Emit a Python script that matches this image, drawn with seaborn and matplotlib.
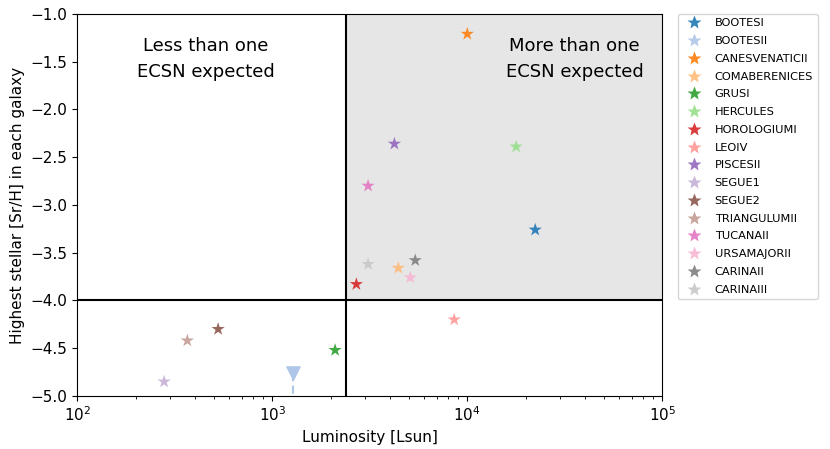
import numpy as np
import pandas as pd
import matplotlib
matplotlib.use('Agg')
import matplotlib.pyplot as plt
import seaborn as sns

# galaxy names, luminosity (Lsun) and highest [Sr/H]
galaxies = ['BOOTESI', 'BOOTESII', 'CANESVENATICII', 'COMABERENICES', 'GRUSI',
            'HERCULES', 'HOROLOGIUMI', 'LEOIV', 'PISCESII', 'SEGUE1', 'SEGUE2',
            'TRIANGULUMII', 'TUCANAII', 'URSAMAJORII', 'CARINAII', 'CARINAIII']
luminosity = [22300, 1280, 10000, 4430, 2100, 17800, 2700, 8570, 4230,
              279, 528, 367, 3100, 5100, 5410, 3100]
sr_h = [-3.26, -4.76, -1.21, -3.66, -4.52, -2.39, -3.83, -4.20, -2.36,
        -4.85, -4.30, -4.42, -2.80, -3.76, -3.58, -3.62]
upper_limit = ['BOOTESII']

lum_cut = 2400
sr_cut = -4.0

data = pd.DataFrame({'galaxy': galaxies, 'L': luminosity, 'SrH': sr_h})
colors = sns.color_palette('tab20', 16)
pal = dict(zip(galaxies, colors))

fig = plt.figure(figsize=(8.3, 4.49), dpi=100)
ax = fig.add_axes([0.093, 0.118, 0.705, 0.851])

# shaded region: more than one ECSN expected
ax.fill_between([lum_cut, 1e5], sr_cut, -1.0, color='0.9', zorder=0, lw=0)
ax.axvline(lum_cut, color='black', lw=1.5, zorder=1)
ax.axhline(sr_cut, color='black', lw=1.5, zorder=1)

detected = data[~data['galaxy'].isin(upper_limit)]
sns.scatterplot(data=detected, x='L', y='SrH', hue='galaxy', hue_order=galaxies,
                palette=pal, marker='*', s=100, edgecolor='none', alpha=0.9,
                ax=ax, zorder=3)

# upper limits
for _, row in data[data['galaxy'].isin(upper_limit)].iterrows():
    c = pal[row['galaxy']]
    ax.plot([row['L'], row['L']], [row['SrH'], -5.2], ls=(0, (4, 2)), color=c,
            lw=1.5, zorder=2)
    ax.scatter(row['L'], row['SrH'], marker='v', s=90, color=c, zorder=3)

ax.set_xscale('log')
ax.set_xlim(1e2, 1e5)
ax.set_ylim(-5.0, -1.0)
ax.set_xlabel('Luminosity [Lsun]', fontsize=11)
ax.set_ylabel('Highest stellar [Sr/H] in each galaxy', fontsize=11)
ax.tick_params(labelsize=11)

ax.text(0.22, 0.94, 'Less than one\nECSN expected', transform=ax.transAxes,
        ha='center', va='top', fontsize=13, linespacing=1.6)
ax.text(0.85, 0.94, 'More than one\nECSN expected', transform=ax.transAxes,
        ha='center', va='top', fontsize=13, linespacing=1.6)

leg = ax.legend(bbox_to_anchor=(1.027, 1.0), loc='upper left', fontsize=8.2,
                borderaxespad=0, labelspacing=0.68, title=None)

fig.savefig('out.png', dpi=100)
